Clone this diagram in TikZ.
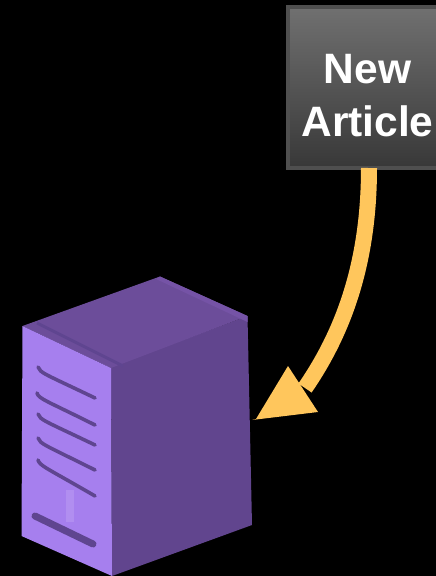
\documentclass[tikz,border=0pt]{standalone}
\usepackage{fontspec}
\setmainfont{Liberation Sans}
\definecolor{arrowc}{HTML}{FFC65C}
\definecolor{boxedge}{HTML}{4F4F4F}
\definecolor{boxtop}{HTML}{707070}
\definecolor{boxbot}{HTML}{383838}
\definecolor{srvfront}{HTML}{A67FEE}
\definecolor{srvside}{HTML}{61458E}
\definecolor{srvtop}{HTML}{6C4D9A}
\definecolor{srvtopl}{HTML}{7553A6}
\definecolor{srvslot}{HTML}{5F4590}
\tikzset{
  x=1pt,y=-1pt,
  slot/.style={draw=srvslot,line width=3.6pt,line cap=round},
  label/.style={font=\bfseries\fontsize{42.5}{42.5}\selectfont,text=white,inner sep=0pt,anchor=base},
  connector/.style={draw=arrowc,line width=16pt},
  tip/.style={fill=arrowc},
}
\begin{document}
\begin{tikzpicture}
\useasboundingbox (0,0) rectangle (436,576);
\fill[black] (0,0) rectangle (436,576);
% box
\node[draw=boxedge,line width=4pt,top color=boxtop,bottom color=boxbot,minimum width=151pt,minimum height=161pt,inner sep=0pt,outer sep=0pt,anchor=north west] (box) at (288,7) {};
\node[label] (new) at (367.5,83) {New};
\node[label] (article) at (367.5,136) {Article};
% server
\fill[srvside] (111,367) -- (247.5,316) -- (252,525) -- (112,576) -- cycle;
\fill[srvtop] (22.5,326) -- (160,276.5) -- (247.5,316) -- (111,368) -- cycle;
\fill[srvtopl] (160,276.5) -- (247.5,316) -- (247.5,322) -- (156,279) -- cycle;
\fill[srvfront] (22.5,326) -- (111,368) -- (112,576) -- (21.5,536) -- cycle;
\draw[srvslot,line width=3pt] (37,323) -- (123,366);
\draw[slot] (38,367) .. controls (40,373) and (45,374) .. (95,398);
\draw[slot] (37,393) .. controls (39,399) and (45,400) .. (95,425);
\draw[slot] (38,414) .. controls (40,420) and (45,421) .. (95,445);
\draw[slot] (38,438) .. controls (40,444) and (45,445) .. (95,470);
\draw[slot] (38,460) .. controls (40,466) and (45,467) .. (95,496);
\draw[srvslot,line width=7pt,line cap=round] (35,516) -- (93,544);
\fill[srvfront!88!white] (66,490) rectangle (74,522);
\coordinate (server) at (252,420);
% arrow
\coordinate (bend) at (305,388);
\draw[connector] (box.south -| 369,0) .. controls (369,260) and (345,330) .. (bend);
\fill[tip] (288,366) -- (318,412) -- (server) -- (256,419) -- cycle;
\end{tikzpicture}
\end{document}
